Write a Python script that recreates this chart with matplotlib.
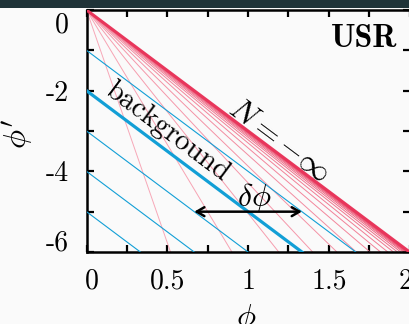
import numpy as np
import matplotlib
matplotlib.use("Agg")
import matplotlib.pyplot as plt
from matplotlib import transforms
from matplotlib.patches import Rectangle

plt.rcParams['font.family'] = 'cmr10'
plt.rcParams['mathtext.fontset'] = 'cm'
plt.rcParams['axes.formatter.use_mathtext'] = True

# ---- data ----
# fan of constant-N lines from the origin: phi where each reaches phi' = -6
fan_phi_end = [0.52, 0.90, 1.19, 1.40, 1.55, 1.67, 1.755, 1.82, 1.865, 1.90,
               1.925, 1.945, 1.96, 1.97, 1.978, 1.984, 1.988, 1.991, 1.993, 1.995]
fan_phi_prime_end = -6.0
# N = -inf limit line: from (0,0) to (2,-6)
limit_phi = [0.0, 2.0]
limit_phi_prime = [0.0, -6.0]
# parallel USR trajectories phi' = slope*phi + intercept
traj_slope = -3.0
traj_intercepts = [-1, -3, -4, -5]
background_intercept = -2
# delta-phi arrow
arrow_phi = [0.667, 1.333]
arrow_phi_prime = -5.0

xticks_major = [0, 0.5, 1, 1.5, 2]
xtick_labels = ['0', '0.5', '1', '1.5', '2']
xticks_minor = [0.25, 0.75, 1.25, 1.75]
yticks_major = [0, -2, -4, -6]
ytick_labels = ['0', '-2', '-4', '-6']
yticks_minor = [-1, -3, -5]

BLUE = '#129fd6'
RED = '#e8365b'
PINK_LIGHT = np.array([0.97, 0.66, 0.72])
PINK_DARK = np.array([0.91, 0.24, 0.38])

fig = plt.figure(figsize=(4.09, 3.24), dpi=100, facecolor='#fafafa')
fig.patches.append(Rectangle((0, 1 - 8 / 324), 1, 8 / 324, transform=fig.transFigure,
                             facecolor='#1f3338', edgecolor='none', zorder=-1))
ax = fig.add_axes([86.5 / 409, 1 - 252 / 324, (409.6 - 86.5) / 409, 242 / 324])
ax.set_facecolor('#fafafa')

# fan lines
n = len(fan_phi_end)
for i, pe in enumerate(fan_phi_end):
    t = i / (n - 1)
    col = PINK_LIGHT * (1 - t) + PINK_DARK * t
    ax.plot([0, pe], [0, fan_phi_prime_end], color=col, lw=0.7, zorder=2,
            solid_capstyle='butt')

# blue trajectories
xx = np.array([0.0, 2.0])
for c in traj_intercepts:
    ax.plot(xx, traj_slope * xx + c, color=BLUE, lw=0.8, zorder=3)
ax.plot(xx, traj_slope * xx + background_intercept, color=BLUE, lw=2.3, zorder=3)

# limit line
ax.plot(limit_phi, limit_phi_prime, color=RED, lw=2.2, zorder=4)

# arrow
ax.annotate('', xy=(arrow_phi[1], arrow_phi_prime), xytext=(arrow_phi[0], arrow_phi_prime),
            arrowprops=dict(arrowstyle='<->,head_length=0.55,head_width=0.32', color='black',
                            lw=1.8, shrinkA=0, shrinkB=0), zorder=6)

ang = -np.degrees(np.arctan((3 * 40.33) / 161.6))
ax.text(0.50, -3.02, 'background', rotation=ang, rotation_mode='anchor',
        ha='center', va='center', fontsize=21, zorder=7)
ax.text(1.19, -3.24, r'$N=-\infty$', rotation=ang, rotation_mode='anchor',
        ha='center', va='center', fontsize=23, zorder=7)
ax.text(1.04, -4.66, r'$\delta\phi$', ha='center', va='center', fontsize=23, zorder=7)
ax.text(0.963, 0.884, 'USR', transform=ax.transAxes, ha='right', va='center',
        fontsize=23, family='cmb10', zorder=7)

ax.set_xlim(0, 2)
ax.set_ylim(-6, 0)
ax.set_xticks(xticks_major)
ax.set_xticks(xticks_minor, minor=True)
ax.set_yticks(yticks_major)
ax.set_yticks(yticks_minor, minor=True)
ax.tick_params(which='both', direction='in', top=True, right=True, width=1.6,
               length=5, labelsize=20)
ax.tick_params(axis='x', which='major', pad=12)
ax.tick_params(axis='y', which='major', pad=13)
ax.set_xticklabels(xtick_labels)
ax.set_yticklabels(ytick_labels)
for s in ax.spines.values():
    s.set_linewidth(1.8)

ax.set_xlabel(r'$\phi$', fontsize=23)
ax.set_ylabel(r"$\phi'$", fontsize=23)
ax.xaxis.set_label_coords(0.494, -0.205)
ax.xaxis.label.set_va('top')
ax.yaxis.set_label_coords(-0.16, 0.49)

# nudge end labels inward
xt = ax.xaxis.get_major_ticks()
xt[0].label1.set_transform(xt[0].label1.get_transform() +
                           transforms.ScaledTranslation(5 / 100, 0, fig.dpi_scale_trans))
xt[-1].label1.set_transform(xt[-1].label1.get_transform() +
                            transforms.ScaledTranslation(-4 / 100, 0, fig.dpi_scale_trans))
yt = ax.yaxis.get_major_ticks()
yt[0].label1.set_transform(yt[0].label1.get_transform() +
                           transforms.ScaledTranslation(0, -12 / 100, fig.dpi_scale_trans))
yt[-1].label1.set_transform(yt[-1].label1.get_transform() +
                            transforms.ScaledTranslation(0, 12 / 100, fig.dpi_scale_trans))

fig.savefig('out.png', dpi=100, facecolor=fig.get_facecolor())
